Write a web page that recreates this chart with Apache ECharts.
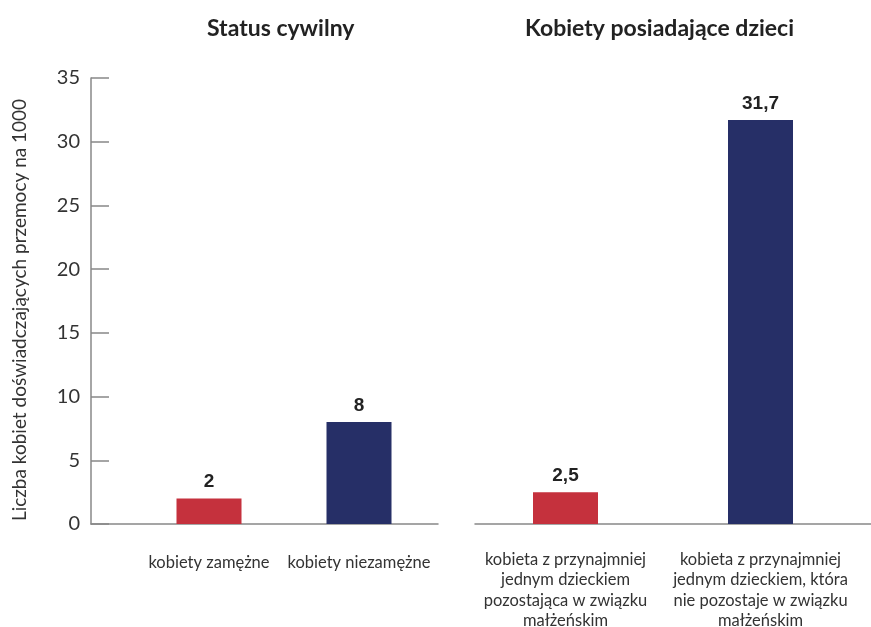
<!DOCTYPE html>
<html>
<head>
<meta charset="utf-8">
<script src="https://cdn.jsdelivr.net/npm/echarts@6/dist/echarts.min.js"></script>
<style>
  html, body { margin: 0; padding: 0; background: #fff; }
  #chart { width: 871px; height: 627px; }
</style>
</head>
<body>
<div id="chart"></div>
<script>
// data
const panelTitles = ['Status cywilny', 'Kobiety posiadające dzieci']
const leftCategories = ['kobiety zamężne', 'kobiety niezamężne']
const leftValues = [2, 8]
const rightCategories = [
  'kobieta z przynajmniej\njednym dzieckiem\npozostająca w związku\nmałżeńskim',
  'kobieta z przynajmniej\njednym dzieckiem, która\nnie pozostaje w związku\nmałżeńskim'
]
const rightValues = [2.5, 31.7]
const barColors = ['#C5313D', '#262F67']
const yName = 'Liczba kobiet doświadczających przemocy na 1000'
const yMin = 0, yMax = 35, yStep = 5

const chart = echarts.init(document.getElementById('chart'))

const TOP = 78, BOTTOM = 103
const font = 'Lato, "Open Sans", sans-serif'

function barSeries(values, idx) {
  return {
    type: 'bar',
    xAxisIndex: idx,
    yAxisIndex: idx,
    barWidth: 65,
    data: values.map((v, i) => ({ value: v, itemStyle: { color: barColors[i] } })),
    label: {
      show: true,
      position: 'top',
      distance: 7,
      fontFamily: '"Liberation Sans", Arial, sans-serif',
      fontWeight: 'bold',
      fontSize: 19,
      color: '#222',
      formatter: p => String(p.value).replace('.', ',')
    }
  }
}

const hiddenY = { type: 'value', min: yMin, max: yMax, show: false }
const titleStyle = { fontFamily: font, fontWeight: 'bold', fontSize: 23, color: '#222' }

chart.setOption({
  animation: false,
  title: [
    { text: panelTitles[0], left: 202, top: 12, textStyle: titleStyle },
    { text: panelTitles[1], left: 520, top: 12, textStyle: titleStyle }
  ],
  grid: [
    // axis frame left
    { left: 91, right: 433, top: TOP, bottom: BOTTOM, outerBoundsMode: 'none' },
    // left bars
    { left: 134, width: 300, top: TOP, bottom: BOTTOM, outerBoundsMode: 'none' },
    // right bars
    { left: 468, width: 390, top: TOP, bottom: BOTTOM, outerBoundsMode: 'none' },
    // axis line right
    { left: 475, right: 0, top: TOP, bottom: BOTTOM, outerBoundsMode: 'none' }
  ],
  xAxis: [
    { gridIndex: 0, type: 'value', min: 0, max: 1,
      axisLine: { show: true, lineStyle: { color: '#888', width: 1.5 } },
      axisTick: { show: false }, axisLabel: { show: false }, splitLine: { show: false } },
    { gridIndex: 1, type: 'category', data: leftCategories,
      axisLine: { show: false }, axisTick: { show: false },
      axisLabel: { margin: 28, interval: 0, fontFamily: font, fontSize: 16.5, color: '#333', lineHeight: 21 } },
    { gridIndex: 2, type: 'category', data: rightCategories,
      axisLine: { show: false }, axisTick: { show: false },
      axisLabel: { margin: 25, interval: 0, fontFamily: font, fontSize: 16.5, color: '#333', lineHeight: 20.5 } },
    { gridIndex: 3, type: 'value', min: 0, max: 1,
      axisLine: { show: true, lineStyle: { color: '#888', width: 1.5 } },
      axisTick: { show: false }, axisLabel: { show: false }, splitLine: { show: false } }
  ],
  yAxis: [
    { gridIndex: 0, type: 'value', min: yMin, max: yMax, interval: yStep,
      name: yName, nameLocation: 'middle', nameGap: 62, nameRotate: 90,
      nameTextStyle: { fontFamily: font, fontSize: 19, color: '#333', padding: [0, 18, 0, 0] },
      axisLine: { show: true, lineStyle: { color: '#888', width: 1.5 } },
      axisTick: { show: true, inside: true, length: 18, lineStyle: { color: '#888', width: 1.5 } },
      axisLabel: { margin: 11, fontFamily: font, fontSize: 20, color: '#333',
        padding: [12, 0, 0, 0] },
      splitLine: { show: false } },
    Object.assign({ gridIndex: 1 }, hiddenY),
    Object.assign({ gridIndex: 2 }, hiddenY),
    Object.assign({ gridIndex: 3 }, hiddenY)
  ],
  series: [
    barSeries(leftValues, 1),
    barSeries(rightValues, 2)
  ]
})
</script>
</body>
</html>
